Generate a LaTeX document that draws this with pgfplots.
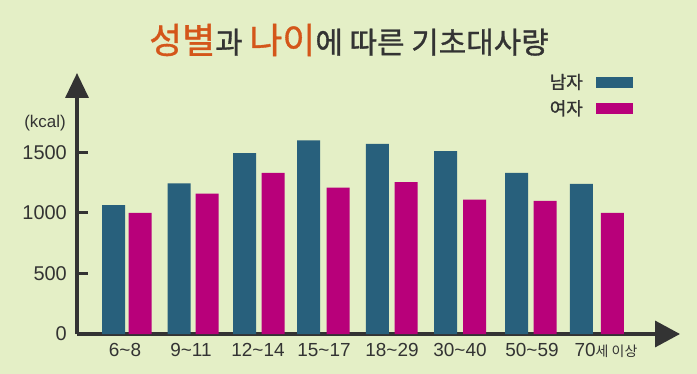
\documentclass[border=0pt]{standalone}
\usepackage{fontspec}
\usepackage{pgfplots}
\pgfplotsset{compat=1.18}
\usetikzlibrary{arrows.meta}
\setmainfont{Noto Sans CJK KR}
\newfontfamily\krbold[FakeBold=1.0]{Noto Sans CJK KR}
\newfontfamily\numfont{Liberation Sans}
\definecolor{bg}{HTML}{E4EFC6}
\definecolor{male}{HTML}{28607C}
\definecolor{female}{HTML}{B8007A}
\definecolor{ttl}{HTML}{D4561A}
\definecolor{ink}{HTML}{333333}
\begin{document}
\begin{tikzpicture}
\fill[bg] (0bp,0bp) rectangle (697bp,374bp);
\node[anchor=center, text=ink, font=\krbold\fontsize{30}{34}\selectfont] at (349bp,334bp)
  {{\color{ttl}\fontsize{36}{40}\selectfont 성별}과 {\color{ttl}\fontsize{36}{40}\selectfont 나이}에 따른 기초대사량};
\node[anchor=center, text=ink, font=\numfont\fontsize{17}{20}\selectfont] at (45bp,251bp) {(kcal)};
\begin{axis}[
  at={(77bp,40bp)}, anchor=south west,
  scale only axis, width=603bp, height=261bp,
  xmin=77, xmax=680, ymin=0, ymax=2156,
  clip=false,
  axis lines=left,
  axis line style={line width=3.5bp, ink},
  x axis line style={-{Triangle[length=25bp,width=26bp]}},
  y axis line style={-{Triangle[length=25bp,width=23bp]}},
  ytick={0,500,1000,1500},
  xtick={125,191,258,324,392,460,532,606},
  xticklabels={6\textasciitilde 8,9\textasciitilde 11,12\textasciitilde 14,15\textasciitilde 17,18\textasciitilde 29,30\textasciitilde 40,50\textasciitilde 59,{70{\rmfamily\fontsize{14}{16}\selectfont 세 이상}}},
  tick align=inside,
  major tick length=11bp,
  y tick style={line width=3bp, ink},
  x tick style={draw=none},
  /pgf/number format/assume math mode=true,
  /pgf/number format/1000 sep={},
  yticklabel style={font=\numfont\fontsize{20}{22}\selectfont, text=ink, inner sep=0pt, xshift=-10bp},
  xticklabel style={font=\numfont\fontsize{19}{22}\selectfont, text=ink, inner sep=0pt, yshift=-9bp},
  legend plot pos=right,
  legend cell align=right,
  legend style={draw=none, fill=none, at={(0.922,1.005)}, anchor=north east,
    font=\krbold\fontsize{18}{20}\selectfont, text=ink, inner sep=0pt, row sep=6bp,
    /tikz/every odd column/.append style={column sep=11bp}},
]
\addplot[ybar, bar shift=0pt, bar width=23bp, fill=male, draw=none,
  legend image code/.code={\fill[male] (0bp,-5.5bp) rectangle (37bp,5.5bp);}]
  coordinates {(113.7,1065) (179.2,1245) (244.7,1495) (308.5,1600) (377.3,1570) (445.5,1510) (516.5,1330) (581.3,1240)};
\addlegendentry{남자}
\addplot[ybar, bar shift=0pt, bar width=23bp, fill=female, draw=none,
  legend image code/.code={\fill[female] (0bp,-5.5bp) rectangle (37bp,5.5bp);}]
  coordinates {(140,1000) (207.2,1160) (273.2,1330) (338,1210) (406.2,1255) (474.5,1110) (545.2,1100) (612.3,1000)};
\addlegendentry{여자}
\end{axis}
\pgfresetboundingbox
\useasboundingbox (0bp,0bp) rectangle (697bp,374bp);
\end{tikzpicture}
\end{document}
